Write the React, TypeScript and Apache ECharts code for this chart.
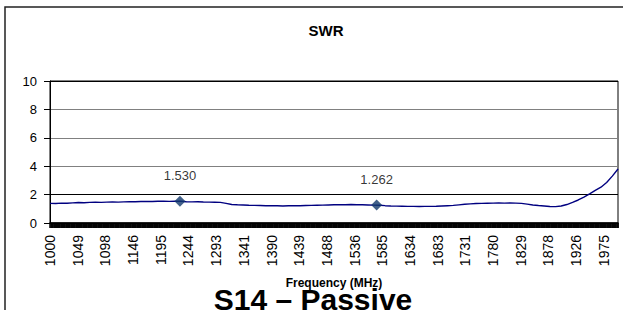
import React, { useEffect, useRef } from "react";
import * as echarts from "echarts";

const FREQ_START = 1000;
const FREQ_STEP = 1.25;
const FREQ_COUNT = 801;
const SAMPLE_STEP = 10;

// SWR sampled every 10 MHz from 1000 to 2000 MHz
const swrValues = [
  1.38, 1.37, 1.40, 1.39, 1.42, 1.44, 1.43, 1.45, 1.46, 1.45,
  1.47, 1.48, 1.47, 1.49, 1.50, 1.50, 1.51, 1.52, 1.51, 1.53,
  1.53, 1.52, 1.53, 1.53, 1.50, 1.49, 1.50, 1.48, 1.47, 1.46,
  1.45, 1.38, 1.30, 1.28, 1.27, 1.25, 1.24, 1.23, 1.22, 1.21,
  1.21, 1.20, 1.22, 1.21, 1.22, 1.23, 1.24, 1.25, 1.26, 1.27,
  1.28, 1.29, 1.28, 1.30, 1.29, 1.28, 1.27, 1.26, 1.25, 1.22,
  1.20, 1.19, 1.18, 1.17, 1.17, 1.16, 1.17, 1.17, 1.18, 1.20,
  1.22, 1.24, 1.28, 1.32, 1.35, 1.37, 1.38, 1.39, 1.40, 1.41,
  1.40, 1.41, 1.40, 1.38, 1.33, 1.27, 1.23, 1.20, 1.16, 1.15,
  1.20, 1.30, 1.45, 1.62, 1.82, 2.05, 2.30, 2.52, 2.85, 3.30,
  3.80,
];

const markerFreqs = [1228.75, 1575];
const markerValues = [1.53, 1.262];

const yTicks = [0, 2, 4, 6, 8, 10];

const titleText = "SWR";
const xAxisName = "Frequency (MHz)";
const subtitleText = "S14 \u2013 Passive";

const FONT = "'Liberation Sans', Arial, sans-serif";

export default function App() {
  const ref = useRef<HTMLDivElement>(null);
  useEffect(() => {
    if (!ref.current) return;
    const chart = echarts.init(ref.current, null, { renderer: "svg" });
    const categories: string[] = [];
    for (let i = 0; i < FREQ_COUNT; i++) {
      categories.push(String(FREQ_START + i * FREQ_STEP));
    }
    const toIndex = (f: number) => (f - FREQ_START) / FREQ_STEP;
    const lineData = swrValues.map((v, i) => [toIndex(FREQ_START + i * SAMPLE_STEP), v]);
    const markerData = markerFreqs.map((f, i) => [toIndex(f), markerValues[i]]);

    chart.setOption({
      animation: false,
      backgroundColor: "#ffffff",
      textStyle: { fontFamily: FONT },
      title: {
        text: titleText,
        left: 321,
        top: 18,
        textAlign: "center",
        textStyle: { fontSize: 15, fontWeight: "bold", color: "#000", fontFamily: FONT },
      },
      grid: {
        left: 50,
        right: 5,
        top: 81,
        bottom: 87,
        show: true,
        borderColor: "#000",
        borderWidth: 1,
        backgroundColor: "transparent",
      },
      xAxis: {
        type: "category",
        data: categories,
        boundaryGap: false,
        axisLine: { show: true, lineStyle: { color: "#000", width: 1.5 } },
        axisTick: { show: true, interval: 0, length: 5, lineStyle: { color: "#000", width: 1.5 } },
        axisLabel: {
          interval: 38,
          rotate: 90,
          margin: 12,
          fontSize: 14,
          color: "#000",
          fontFamily: FONT,
          formatter: (v: string) => String(Math.round(Number(v))),
        },
        splitLine: { show: false },
      },
      yAxis: {
        type: "value",
        min: yTicks[0],
        max: yTicks[yTicks.length - 1],
        interval: 2,
        axisLine: { show: true, lineStyle: { color: "#000", width: 1 } },
        axisTick: { show: true, length: 6, lineStyle: { color: "#000" } },
        axisLabel: { fontSize: 13, color: "#000", margin: 13, fontFamily: FONT },
        splitLine: {
          show: true,
          lineStyle: { color: ["#000", "#000", "#808080", "#808080", "#808080", "#000"], width: 1 },
        },
      },
      series: [
        {
          type: "line",
          data: lineData,
          symbol: "none",
          lineStyle: { color: "#000080", width: 1.4 },
          z: 3,
        },
        {
          type: "scatter",
          data: markerData,
          symbol: "diamond",
          symbolSize: 11,
          itemStyle: { color: "#12386b" },
          label: {
            show: true,
            position: "top",
            distance: 14,
            fontSize: 13,
            color: "#000",
            fontFamily: FONT,
            formatter: (p: any) => Number(p.value[1]).toFixed(3),
          },
          z: 4,
        },
      ],
      graphic: [
        {
          type: "rect",
          shape: { x: 5, y: 7, width: 640, height: 330 },
          style: { fill: "none", stroke: "#222", lineWidth: 1.5 },
          silent: true,
        },
        {
          type: "text",
          x: 334,
          y: 283,
          z: 10,
          style: {
            text: xAxisName,
            fontSize: 12,
            fontWeight: "bold",
            fontFamily: FONT,
            fill: "#000",
            align: "center",
            verticalAlign: "middle",
          },
        },
        {
          type: "text",
          x: 313,
          y: 299,
          style: {
            text: subtitleText,
            fontSize: 30,
            fontWeight: "bold",
            fontFamily: FONT,
            fill: "#000",
            align: "center",
            verticalAlign: "middle",
          },
        },
      ],
    });
    return () => chart.dispose();
  }, []);
  return (
    <div
      ref={ref}
      style={{ position: "fixed", left: 0, top: 0, width: 623, height: 310 }}
    />
  );
}
